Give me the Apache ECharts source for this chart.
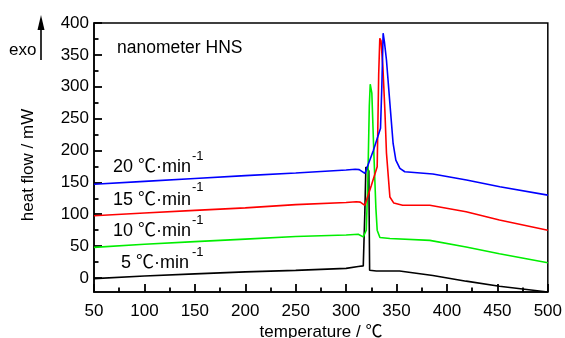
<!DOCTYPE html>
<html>
<head>
<meta charset="utf-8">
<script src="https://cdn.jsdelivr.net/npm/echarts@6/dist/echarts.min.js"></script>
<style>html,body{margin:0;padding:0;background:#fff}#c{width:565px;height:338px}</style>
</head>
<body>
<div id="c"></div>
<script>
// ---- data ----
const xTickStep = 50;
const yTicks = [0, 50, 100, 150, 200, 250, 300, 350, 400];
const yMinorTicks = [25, 75, 125, 175, 225, 275, 325, 375];
const seriesNames = ['5 ℃·min-1', '10 ℃·min-1', '15 ℃·min-1', '20 ℃·min-1'];

const rate5 = [[50,-1],[100,3],[150,6.5],[200,9.5],[250,12],[300,15],[312,18],[317,19],[318.5,100],[319.6,174],[320.5,172],[322.5,168],[323.3,12],[330,11],[353,11],[386,4],[419,-5],[452,-13],[500,-22]];
const rate10 = [[50,48],[100,53],[150,57],[200,61],[250,65],[300,67.5],[312,68.5],[317,64.5],[320,75],[321.5,150],[323,270],[323.9,304],[325.5,290],[327.5,196],[329.5,110],[330.8,75],[333.5,63.5],[343.4,62],[383,59],[419,48.7],[452,38],[500,24]];
const rate15 = [[50,97.5],[100,102],[150,106],[200,110],[250,115],[300,118.5],[310,119.5],[314,119],[318.6,114],[325,145],[330.8,174.5],[332.3,320],[333.4,376],[334.6,372],[336.5,330],[338.5,260],[340,196],[343.4,127],[347.3,117.5],[356,114],[383,114],[419,104],[452,91],[500,75]];
const rate20 = [[50,147],[100,151.5],[150,156],[200,160.5],[250,164.7],[300,169.5],[309,170.5],[313,170],[318.6,164],[320.3,167],[327,200],[334.1,235],[335.4,300],[336.7,384],[338,370],[340,342],[343.4,274],[346.6,211],[349.3,185],[353.3,172],[358.2,166.7],[386,163],[419.4,153.6],[452.4,143],[500,130]];

const FONT = '"Liberation Sans", Arial, "Noto Sans CJK SC", sans-serif';
const chart = echarts.init(document.getElementById('c'));

function mkSeries(name, data, color) {
  return {
    name: name, type: 'line', data: data, showSymbol: false, symbol: 'none',
    smooth: false, lineStyle: {color: color, width: 1.6}, itemStyle: {color: color},
    clip: true, xAxisIndex: 0, yAxisIndex: 0
  };
}

function rateLabel(main, x, yTop, supX, supY) {
  return [
    {type: 'text', left: x, top: yTop, style: {text: main, font: '18px ' + FONT, fill: '#000'}},
    {type: 'text', left: supX, top: supY, style: {text: '-1', font: '13px ' + FONT, fill: '#000'}}
  ];
}

const tickLine = {color: '#000', width: 1.8};

const option = {
  animation: false,
  backgroundColor: '#fff',
  grid: {left: 94, right: 17, top: 23, bottom: 46, show: true, borderColor: '#000', borderWidth: 1.5, backgroundColor: 'rgba(0,0,0,0)'},
  xAxis: [{
    type: 'value', min: 50, max: 500, interval: xTickStep, position: 'bottom',
    axisLine: {show: true, onZero: false, lineStyle: {color: '#000', width: 1.5}},
    axisTick: {show: true, inside: true, length: 8, lineStyle: tickLine},
    minorTick: {show: true, splitNumber: 2, length: 4.5, lineStyle: tickLine},
    axisLabel: {show: true, fontSize: 17, color: '#000', fontFamily: FONT, margin: 11},
    splitLine: {show: false}
  }],
  yAxis: [{
    type: 'value', min: -22, max: 400, position: 'left',
    axisLine: {show: true, onZero: false, lineStyle: {color: '#000', width: 1.5}},
    axisTick: {show: true, inside: true, length: 8, customValues: yTicks, lineStyle: tickLine},
    axisLabel: {show: true, fontSize: 17, color: '#000', fontFamily: FONT, margin: 5, customValues: yTicks},
    splitLine: {show: false}
  }, {
    type: 'value', min: -22, max: 400, position: 'left',
    axisLine: {show: false, onZero: false},
    axisTick: {show: true, inside: true, length: 4.5, customValues: yMinorTicks, lineStyle: tickLine},
    axisLabel: {show: false},
    splitLine: {show: false}
  }],
  series: [
    mkSeries(seriesNames[0], rate5, '#000000'),
    mkSeries(seriesNames[1], rate10, '#00ee00'),
    mkSeries(seriesNames[2], rate15, '#ff0000'),
    mkSeries(seriesNames[3], rate20, '#0000ff')
  ],
  graphic: [
    {type: 'text', left: 9, top: 42, style: {text: 'exo', font: '17px ' + FONT, fill: '#000'}},
    {type: 'line', shape: {x1: 41, y1: 60, x2: 41, y2: 26}, style: {stroke: '#000', lineWidth: 1.6}},
    {type: 'polygon', shape: {points: [[37.5, 30], [41, 15], [44.5, 30]]}, style: {fill: '#000'}},
    {type: 'text', left: 117, top: 39, style: {text: 'nanometer HNS', font: '17.5px ' + FONT, fill: '#000'}},
    {type: 'text', x: 37, y: 165, rotation: Math.PI / 2,
     style: {text: 'heat flow / mW', font: '17px ' + FONT, fill: '#000', align: 'center', verticalAlign: 'bottom'}},
    {type: 'text', x: 321, y: 324,
     style: {text: 'temperature / ℃', font: '17px ' + FONT, fill: '#000', align: 'center', verticalAlign: 'top'}}
  ]
    .concat(rateLabel('20 ℃·min', 113, 158, 192, 150))
    .concat(rateLabel('15 ℃·min', 113, 191, 192, 181))
    .concat(rateLabel('10 ℃·min', 113, 222, 192, 214))
    .concat(rateLabel('5 ℃·min', 121, 254, 192, 246))
};
chart.setOption(option);
</script>
</body>
</html>
